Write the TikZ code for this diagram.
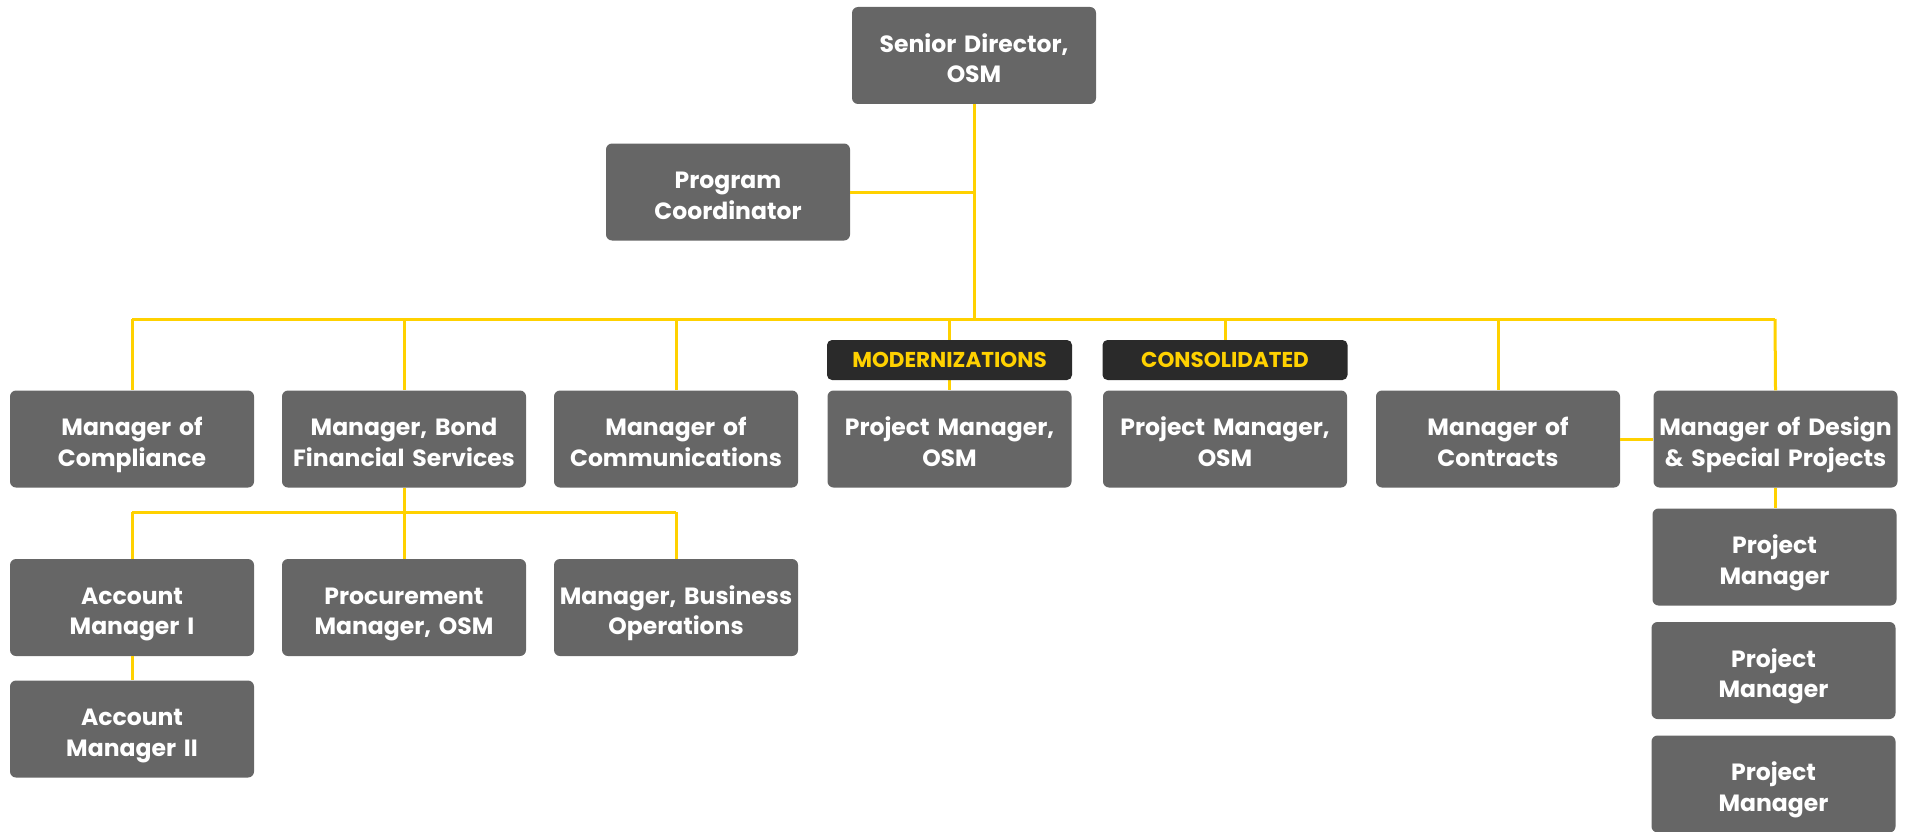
\documentclass[tikz,border=0pt]{standalone}
\usepackage{fontspec}
\setmainfont{Poppins}
\definecolor{boxgray}{HTML}{666666}
\definecolor{tagdark}{HTML}{2A2A2A}
\definecolor{linkgold}{HTML}{FFD100}
\begin{document}
\begin{tikzpicture}[x=1pt,y=-1pt,
  role/.style={fill=boxgray, rounded corners=6pt, minimum width=244pt,
    minimum height=97pt, text width=242pt, inner sep=0pt, align=center,
    text=white, font=\fontsize{23.5}{30.5}\selectfont\bfseries,
    execute at begin node={\rule{0pt}{33pt}}, execute at end node=\strut},
  tag/.style={fill=tagdark, rounded corners=5pt, minimum width=245pt,
    minimum height=40pt, inner sep=0pt, text=linkgold,
    font=\fontsize{21.5}{24}\selectfont\bfseries},
  link/.style={draw=linkgold, line width=3pt}]
\useasboundingbox (0,0) rectangle (1913,832);

% junction points of the connector tree
\coordinate (trunk) at (974,319);
\coordinate (pcjoin) at (974,192);
\coordinate (busL) at (132,319);
\coordinate (busR) at (1775,319);
\coordinate (subL) at (132,512);
\coordinate (subR) at (676,512);

% top level
\node[role] (sd) at (974,55.5) {Senior Director,\\OSM};
\node[role] (pc) at (728,192) {Program\\Coordinator};

% direct reports
\node[role] (comp)  at (132,439)  {Manager of\\Compliance};
\node[role] (bond)  at (404,439)  {Manager, Bond\\Financial Services};
\node[role] (comm)  at (676,439)  {Manager of\\Communications};
\node[role] (pmmod) at (949.5,439) {Project Manager,\\OSM};
\node[role] (pmcon) at (1225,439) {Project Manager,\\OSM};
\node[role] (contr) at (1498,439) {Manager of\\Contracts};
\node[role] (dsp)   at (1775.5,439) {Manager of Design\\\& Special Projects};

% second level under Bond Financial Services
\node[role] (am1)   at (132,607.5) {Account\\Manager I};
\node[role] (proc)  at (404,607.5) {Procurement\\Manager, OSM};
\node[role] (bizop) at (676,607.5) {Manager, Business\\Operations};
\node[role] (am2)   at (132,729) {Account\\Manager II};

% project managers under Design & Special Projects
\node[role] (pm1) at (1774.5,557) {Project\\Manager};
\node[role] (pm2) at (1773.5,670.5) {Project\\Manager};
\node[role] (pm3) at (1773.5,784) {Project\\Manager};

% connectors
\draw[link] (sd.south) -- (trunk);
\draw[link] (pc.east) -- (pcjoin);
\draw[link] (busL) -- (busR);
\draw[link] (busL) -- (comp.north);
\draw[link] (bond.north |- trunk) -- (bond.north);
\draw[link] (comm.north |- trunk) -- (comm.north);
\draw[link] (contr.north |- trunk) -- (contr.north);
\draw[link] (busR) -- (dsp.north);
\draw[link] (contr.east) -- (dsp.west);
\draw[link] (dsp.south) -- (pm1.north -| dsp.south);
\draw[link] (bond.south) -- (proc.north);
\draw[link] (subL) -- (subR);
\draw[link] (subL) -- (am1.north);
\draw[link] (subR) -- (bizop.north);
\draw[link] (am1.south) -- (am2.north);
\draw[link] (pmmod.north |- trunk) -- (pmmod.north);
\draw[link] (pmcon.north |- trunk) -- ++(0,41);

% tags above the two project manager boxes
\node[tag] (modtag) at (949.5,360) {MODERNIZATIONS};
\node[tag] (contag) at (1225,360) {CONSOLIDATED};
\end{tikzpicture}
\end{document}
